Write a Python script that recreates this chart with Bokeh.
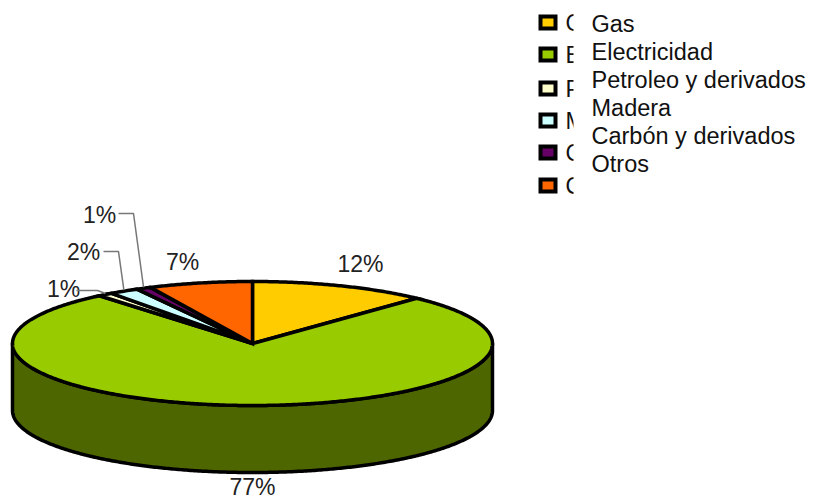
import math
from bokeh.plotting import figure
from bokeh.models import Range1d
from bokeh.core.properties import value
from bokeh.embed import file_html
from bokeh.resources import INLINE

categories = ["Gas", "Electricidad", "Petroleo y derivados", "Madera", "Carbón y derivados", "Otros"]
shares = [12, 77, 1, 2, 1, 7]
colors = ["#FFCC00", "#99CC00", "#FFFFCC", "#CCFFFF", "#660066", "#FF6600"]
side_colors = ["#806600", "#4D6600", "#808066", "#668080", "#330033", "#803300"]

FONT = "Liberation Sans"
CX, CY, RX, RY, DEPTH = 252, 343, 240, 62, 67

p = figure(width=813, height=501, output_backend="svg", toolbar_location=None,
           x_range=Range1d(0, 813), y_range=Range1d(501, 0),
           min_border=0, outline_line_color=None, background_fill_color="white")
p.axis.visible = False
p.grid.visible = False


def rim(deg, dy=0.0):
    t = math.radians(deg)
    return CX + RX * math.sin(t), CY - RY * math.cos(t) + dy


def arc(a, b, dy=0.0):
    n = max(2, int(abs(b - a) * 2))
    return [rim(a + (b - a) * i / n, dy) for i in range(n + 1)]


total = sum(shares)
edges = [0.0]
for s in shares:
    edges.append(edges[-1] + 360.0 * s / total)

# side wall: only the part of the rim facing the viewer (90..270 degrees)
for i in range(len(shares)):
    a, b = max(edges[i], 90), min(edges[i + 1], 270)
    if b > a:
        top = arc(a, b)
        bot = arc(b, a, DEPTH)
        pts = top + bot
        p.patch([q[0] for q in pts], [q[1] for q in pts], fill_color=side_colors[i],
                line_color="black", line_width=3.5, line_join="round")

# top face wedges
for i in range(len(shares)):
    pts = [(CX, CY)] + arc(edges[i], edges[i + 1])
    p.patch([q[0] for q in pts], [q[1] for q in pts], fill_color=colors[i],
            line_color="black", line_width=3.5, line_join="miter")

# percentage labels
labels = [f"{s}%" for s in shares]
label_xy = [(360, 263), (252, 486), (63, 288), (83, 251), (99, 214), (182, 261)]
for lab, (x, y) in zip(labels, label_xy):
    p.text([x], [y], text=[lab], text_font=value(FONT), text_font_size="23px",
           text_color="#222222", text_align="center", text_baseline="middle")

# leader lines, from the label to the middle of each small slice's rim
elbows = {2: [(76, 290), (97, 290)], 3: [(103, 251), (118, 251)], 4: [(118, 213), (133, 213)]}
for i, pts in elbows.items():
    end = rim((edges[i] + edges[i + 1]) / 2, -1)
    path = pts + [end]
    p.line([q[0] for q in path], [q[1] for q in path], line_color="#777777", line_width=1.5)

# legend keys, with their own labels cut off by the box laid over them
row_y = [22, 54, 88, 120, 152, 185]
for cat, col, y in zip(categories, colors, row_y):
    p.text([565], [y], text=[cat], text_font=value(FONT), text_font_size="23px",
           text_color="#111111", text_align="left", text_baseline="middle")
    p.quad(left=[540], right=[555], top=[y - 6], bottom=[y + 6], fill_color=col,
           line_color="black", line_width=4, line_join="miter")
p.quad(left=[573], right=[813], top=[0], bottom=[205], fill_color="white", line_color=None)

text_y = [23, 51, 79, 107, 135, 163]
for cat, y in zip(categories, text_y):
    p.text([591], [y], text=[cat], text_font=value(FONT), text_font_size="23.5px",
           text_color="#111111", text_align="left", text_baseline="middle")

open("out.html", "w").write(file_html(p, INLINE))
